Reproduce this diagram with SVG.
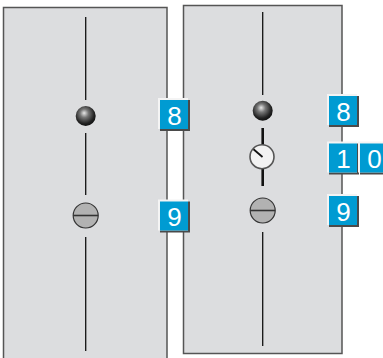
<svg xmlns="http://www.w3.org/2000/svg" width="383" height="358" viewBox="0 0 383 358">
<defs>
<radialGradient id="ball" cx="0.45" cy="0.4" r="0.6" fx="0.42" fy="0.35">
<stop offset="0" stop-color="#e8e8e8"/>
<stop offset="0.35" stop-color="#777"/>
<stop offset="0.8" stop-color="#222"/>
<stop offset="1" stop-color="#111"/>
</radialGradient>
<g id="badge">
<rect x="2" y="2" width="30" height="31" fill="#4a4a4a"/>
<rect x="0" y="0" width="30" height="31" fill="#f4f4f4"/>
<rect x="2" y="2" width="28" height="29" fill="#009bd2"/>
</g>
</defs>
<style>
.panel{fill:#dcdddf;stroke:#555;stroke-width:1.5}
.wire{stroke:#111;stroke-width:1.3;fill:none}
.thick{stroke:#111;stroke-width:2.6;fill:none}
.flat{fill:#b2b2b2;stroke:#333;stroke-width:1.2}
.num{font-family:"Liberation Sans",Arial,sans-serif;font-size:26px;fill:#fff;text-anchor:middle}
</style>
<g id="panel-left"><rect class="panel" x="3.5" y="7.5" width="163.5" height="360"/></g>
<g id="panel-right"><rect class="panel" x="183.5" y="5.5" width="158.5" height="348"/></g>
<g id="connectors">
<line class="wire" x1="85.7" y1="17" x2="85.7" y2="100"/>
<line class="wire" x1="85.7" y1="133" x2="85.7" y2="195"/>
<line class="wire" x1="85.7" y1="237" x2="85.7" y2="351"/>
<line class="wire" x1="262.7" y1="12" x2="262.7" y2="95"/>
<line class="thick" x1="262.7" y1="128" x2="262.7" y2="145"/>
<line class="thick" x1="262.7" y1="169" x2="262.7" y2="186"/>
<line class="wire" x1="262.7" y1="232" x2="262.7" y2="346"/>
</g>
<g id="ball-left"><circle cx="85.7" cy="116" r="10" fill="url(#ball)"/></g>
<g id="flat-left"><circle class="flat" cx="85.7" cy="215.5" r="12.5"/><line x1="73.2" y1="215.5" x2="98.2" y2="215.5" stroke="#333" stroke-width="1.6"/></g>
<g id="ball-right"><circle cx="262.7" cy="110.7" r="10" fill="url(#ball)"/></g>
<g id="dial-right"><circle cx="262" cy="156.7" r="12" fill="#f2f2f2" stroke="#555" stroke-width="1.6"/><line x1="253.5" y1="149.3" x2="262.5" y2="157" stroke="#111" stroke-width="1.8"/></g>
<g id="flat-right"><circle class="flat" cx="262.7" cy="210.5" r="12.5"/><line x1="250.2" y1="210.5" x2="275.2" y2="210.5" stroke="#333" stroke-width="1.6"/></g>
<g id="badge-left-8"><use href="#badge" x="158" y="98"/><text class="num" x="174.5" y="124.7">8</text></g>
<g id="badge-left-9"><use href="#badge" x="158" y="199.5"/><text class="num" x="174.5" y="226.2">9</text></g>
<g id="badge-right-8"><use href="#badge" x="327" y="94"/><text class="num" x="343.5" y="120.7">8</text></g>
<g id="badge-right-10"><use href="#badge" x="327" y="141.5"/><text class="num" x="343.5" y="168.2">1</text><use href="#badge" x="358" y="141.5"/><text class="num" x="374.5" y="168.2">0</text></g>
<g id="badge-right-9"><use href="#badge" x="327" y="194"/><text class="num" x="343.5" y="220.7">9</text></g>
</svg>
